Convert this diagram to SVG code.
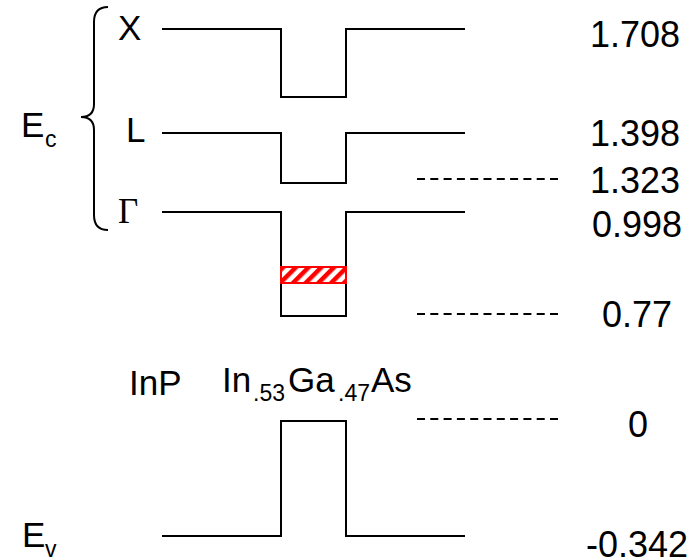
<svg xmlns="http://www.w3.org/2000/svg" width="696" height="558" viewBox="0 0 696 558">
<style>
.band{fill:none;stroke:#000;stroke-width:2;stroke-linejoin:miter}
.dash{fill:none;stroke:#000;stroke-width:2;stroke-dasharray:8 5.3}
.t{font-family:"Liberation Sans",Arial,sans-serif;font-size:35px;fill:#000}
.n{font-family:"Liberation Sans",Arial,sans-serif;font-size:36px;fill:#000}
.s{font-family:"Liberation Sans",Arial,sans-serif;font-size:23px;fill:#000}
.g{font-family:"Liberation Serif","Times New Roman",serif;font-size:35px;fill:#000}
</style>
<defs>
<pattern id="hatch" patternUnits="userSpaceOnUse" width="9" height="9" patternTransform="rotate(45)">
<rect x="0" y="0" width="9" height="9" fill="#fff"/>
<rect x="0" y="0" width="4.5" height="9" fill="#f00"/>
</pattern>
</defs>
<rect width="696" height="558" fill="#fff"/>
<g id="connectors">
<path id="x-band" class="band" d="M162,29 H281 V97 H346 V29 H465"/>
<path id="l-band" class="band" d="M162,133 H281 V183 H346 V133 H465"/>
<path id="gamma-band" class="band" d="M162,212 H281 V316 H346 V212 H465"/>
<path id="ev-band" class="band" d="M162,536 H281 V421 H346 V536 H465"/>
<path id="dash-1323" class="dash" d="M417,179 H563"/>
<path id="dash-077" class="dash" d="M417,314 H563"/>
<path id="dash-0" class="dash" d="M417,419 H563"/>
<path id="brace" class="band" d="M108,7 Q94,7 94,22 V104 Q94,117 81,117 Q94,117 94,130 V215 Q94,230 108,230"/>
</g>
<g id="state">
<rect x="281" y="267" width="65" height="16" fill="url(#hatch)" stroke="#f00" stroke-width="2"/>
</g>
<g id="labels-left">
<text class="t" x="118" y="40">X</text>
<text class="t" x="126" y="142">L</text>
<text class="g" x="118" y="223">Γ</text>
<text class="t" x="21" y="137">E<tspan class="s" x="45" y="147">c</tspan></text>
<text class="t" x="22" y="547">E<tspan class="s" x="45" y="557">v</tspan></text>
<text class="t" x="129" y="395">InP</text>
<text class="t" x="222" y="392">In<tspan class="s" x="253" y="401">.53</tspan><tspan x="288" y="392">Ga</tspan><tspan class="s" x="338" y="401">.47</tspan><tspan x="371" y="392">As</tspan></text>
</g>
<g id="labels-right">
<text class="n" x="590" y="47">1.708</text>
<text class="n" x="590" y="146">1.398</text>
<text class="n" x="590" y="193">1.323</text>
<text class="n" x="592" y="237">0.998</text>
<text class="n" x="602" y="327">0.77</text>
<text class="n" x="628" y="437">0</text>
<text class="n" x="586" y="557">-0.342</text>
</g>
</svg>
